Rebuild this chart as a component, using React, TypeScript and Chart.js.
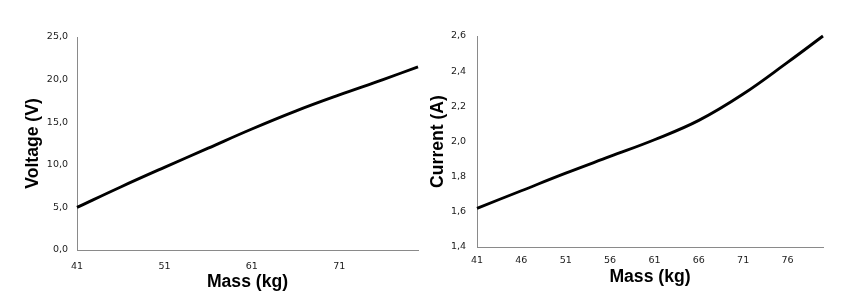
import React, { useEffect, useRef } from "react";
import { Chart, registerables } from "chart.js";

Chart.register(...registerables);

// Data
const masses = [41, 46, 51, 56, 61, 66, 71, 76, 80];
const voltage = [5.0, 7.4, 9.7, 11.95, 14.2, 16.3, 18.2, 20.0, 21.5];
const current = [1.62, 1.72, 1.82, 1.915, 2.01, 2.12, 2.27, 2.45, 2.6];

const leftXTicks = [41, 51, 61, 71];
const rightXTicks = [41, 46, 51, 56, 61, 66, 71, 76];
const xTitle = "Mass (kg)";
const leftYTitle = "Voltage (V)";
const rightYTitle = "Current (A)";

type Spec = {
  values: number[];
  xTicks: number[];
  yMin: number;
  yMax: number;
  yStep: number;
  yTitle: string;
  padTop: number;
  padRight: number;
  yWidth: number;
  xHeight: number;
  xTickPad: number;
  yTickPad: number;
  yTitlePad: number;
  xTitlePad: number;
};

const tickFont = { family: "'DejaVu Sans', Verdana, sans-serif", size: 9.5 };
const titleFont = { family: "'Liberation Sans', Arial, sans-serif", size: 17.6, weight: "bold" as const };
const axisColor = "#8a8a8a";
const tickColor = "#1a1a1a";

function makeConfig(s: Spec): any {
  return {
    type: "line",
    data: {
      datasets: [
        {
          data: masses.map((m, i) => ({ x: m, y: s.values[i] })),
          borderColor: "#000000",
          borderWidth: 2.9,
          pointRadius: 0,
          fill: false,
          tension: 0.4,
          clip: 6,
        },
      ],
    },
    options: {
      responsive: false,
      animation: false,
      layout: { padding: { left: 0, right: s.padRight, top: s.padTop, bottom: 0 } },
      plugins: { legend: { display: false }, tooltip: { enabled: false } },
      scales: {
        x: {
          type: "linear",
          min: 41,
          max: 80,
          afterBuildTicks: (scale: any) => {
            scale.ticks = s.xTicks.map((v) => ({ value: v }));
          },
          afterFit: (scale: any) => {
            scale.height = s.xHeight;
          },
          grid: { display: false, drawTicks: false },
          border: { display: true, color: axisColor, width: 1 },
          ticks: {
            font: tickFont,
            color: tickColor,
            padding: s.xTickPad,
            autoSkip: false,
            maxRotation: 0,
            callback: (v: any) => String(v),
          },
          title: {
            display: true,
            text: xTitle,
            font: titleFont,
            color: "#000000",
            padding: { top: 0, bottom: s.xTitlePad },
          },
        },
        y: {
          type: "linear",
          min: s.yMin,
          max: s.yMax,
          afterFit: (scale: any) => {
            scale.width = s.yWidth;
          },
          grid: { display: false, drawTicks: false },
          border: { display: true, color: axisColor, width: 1 },
          ticks: {
            stepSize: s.yStep,
            font: tickFont,
            color: tickColor,
            padding: s.yTickPad,
            callback: (v: any) => Number(v).toFixed(1).replace(".", ","),
          },
          title: {
            display: true,
            text: s.yTitle,
            font: titleFont,
            color: "#000000",
            padding: { top: s.yTitlePad, bottom: 0 },
          },
        },
      },
    },
  };
}

function ChartCanvas({ spec, left }: { spec: Spec; left: number }) {
  const ref = useRef<HTMLCanvasElement | null>(null);
  useEffect(() => {
    if (!ref.current) return;
    const chart = new Chart(ref.current, makeConfig(spec));
    return () => chart.destroy();
  }, []);
  return (
    <canvas
      ref={ref}
      width={423}
      height={298}
      style={{ position: "absolute", left, top: 0, width: 423, height: 298 }}
    />
  );
}

const leftSpec: Spec = {
  values: voltage,
  xTicks: leftXTicks,
  yMin: 0,
  yMax: 25,
  yStep: 5,
  yTitle: leftYTitle,
  padTop: 37,
  padRight: 5,
  yWidth: 77,
  xHeight: 48,
  xTickPad: 10.5,
  yTickPad: 9,
  yTitlePad: 22.5,
  xTitlePad: 5,
};

const rightSpec: Spec = {
  values: current,
  xTicks: rightXTicks,
  yMin: 1.4,
  yMax: 2.6,
  yStep: 0.2,
  yTitle: rightYTitle,
  padTop: 36,
  padRight: 23,
  yWidth: 54,
  xHeight: 51,
  xTickPad: 8,
  yTickPad: 11,
  yTitlePad: 4.6,
  xTitlePad: 10,
};

export default function App() {
  return (
    <div style={{ position: "fixed", left: 0, top: 0, width: 846, height: 298, background: "#ffffff" }}>
      <ChartCanvas spec={leftSpec} left={0} />
      <ChartCanvas spec={rightSpec} left={423} />
    </div>
  );
}
